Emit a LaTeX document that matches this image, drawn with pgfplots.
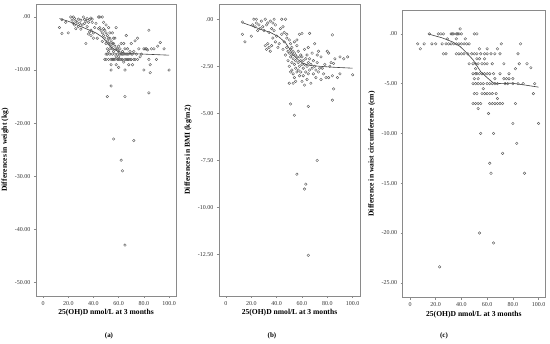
\documentclass[border=0pt]{standalone}
\usepackage{fontspec}
\setmainfont{Liberation Serif}
\usepackage{pgfplots}
\pgfplotsset{compat=1.18}
\definecolor{frame}{HTML}{8A8A8A}
\definecolor{pt}{HTML}{5A5A5A}
\definecolor{fit}{HTML}{404040}
\pgfplotsset{
  panel/.style={
    scale only axis, anchor=south west,
    axis line style={frame, line width=0.6pt},
    tick style={frame, line width=0.5pt},
    major tick length=2pt, tick align=outside, tick pos=left,
    ticklabel style={font=\fontsize{6}{6.5}\selectfont, text=black!80},
    xtick={0,20,40,60,80,100},
    xticklabels={0,20.0,40.0,60.0,80.0,100.0},
    xlabel={25(OH)D nmol/L at 3 months},
    label style={font=\bfseries\fontsize{7.6}{9}\selectfont},
    xlabel style={at={(axis description cs:0.5,0)}, anchor=center, yshift=-17pt},
    ylabel style={at={(axis description cs:0,0.5)}, anchor=center, rotate=0, yshift=31pt},
    x tick label style={yshift=0.5pt},
  },
  pts/.style={only marks, mark=o, mark size=1.3pt, mark options={draw=pt, line width=0.4pt}},
  loess/.style={no marks, draw=fit, line width=0.6pt},
}
\begin{document}
\begin{tikzpicture}[x=1pt,y=1pt]
\fill[white] (0,0) rectangle (550,344);
\path[use as bounding box] (0,0) rectangle (550,344);
% ---------------- (a) ----------------
\begin{axis}[panel, at={(36pt,48pt)}, width=140pt, height=292pt,
  xmin=-5.6, xmax=105.5, ymin=-52.6, ymax=2.45,
  ytick={-50,-40,-30,-20,-10,0},
  yticklabels={-50.00,-40.00,-30.00,-20.00,-10.00,.00},
  ylabel={Differences in weight (kg)}]
\addplot[pts] table {
13 -2
15 -0.5
15 -3.1
18 -1
20 -3
22 0
23 -0.6
24 0
24 -1.2
25 -0.3
25 -1.5
26 -2.2
26 -0.8
27 -1
28 -0.4
28 -1.8
29 -1.2
30 -0.6
30 -2.3
31 -1.5
32 0
33 -0.5
33 -1.2
34 -5
34 -0.8
35 -1.8
35 -0.3
36 -1
36 -3.2
37 -2.8
37 -0.5
38 -0.2
38 -2.5
38 -3.5
39 -1
39 -0.4
40 -3
40 -4
41 -2
42 -1.2
43 -4
44 0
44 -2.2
45 0
45 -2
46 -2.5
47 0
47 -4.6
47 -3
48 -3.5
48 -1
48 -2.2
49 -4
49 -2.5
49 -8
50 -3
50 -5
50 -1.5
50 -7
50 -8
51 -3.5
51 -6
51 -7
51 -4.5
52 -4
52 -5
52 -8
52 -2
52 -6.5
53 -4
53 -6
53 -5
53 -7
53 -3
54 -4.5
54 -8
54 -9
54 -10
54 -5.5
55 -5
55 -6
55 -7
55 -3
55 -8
56 -5
56 -8
56 -6.5
56 -4
57 -4
57 -7
57 -8
57 -5.5
58 -6
58 -9
58 -2
58 -7.5
59 -6
59 -7
59 -8
60 -6.5
60 -5.5
60 -7.5
60 -9.5
60 -8
61 -6
61 -8
61 -7
62 -7
62 -5
62 -8
63 -8
63 -6.5
63 -7
64 -7
64 -8.5
64 -5
65 -8
65 -10
65 -6
65 -7
66 -3.5
66 -7
66 -8
67 -8
67 -6
67 -7
68 -7
68 -9
68 -8
69 -8
69 -6.5
70 -7
70 -5
70 -8
71 -9
71 -7
72 -8
72 -6.5
73 -4.5
73 -8
74 -7
75 -8
75 -4
76 -6
77 -7.5
78 -7
80 -6
80 -10
81 -6
82 -6
83 -6.2
84 -2.5
84 -8
85 -10.5
85 -9
86 -6
88 -6
90 -8
91 -5.5
93 -4.8
96 -6
100 -10
51 -15
54 -13
56 -23
62 -27
63 -29
65 -15
65 -43
72 -23.3
84 -14.3
};
\addplot[loess] coordinates {(13,-0.3) (20,-0.8) (29,-1.7) (36,-2.4) (42,-3.0) (47,-3.8) (50,-4.6) (53,-5.5) (57,-6.2) (61,-6.6) (65,-6.8) (70,-6.9) (80,-7.0) (90,-7.1) (100,-7.2)};
\end{axis}
% ---------------- (b) ----------------
\begin{axis}[panel, at={(219pt,48pt)}, width=141pt, height=292pt,
  xmin=-5.5, xmax=105.8, ymin=-14.7, ymax=0.81,
  ytick={-12.5,-10,-7.5,-5,-2.5,0},
  yticklabels={-12.50,-10.00,-7.50,-5.00,-2.50,.00},
  ylabel={Differences in BMI (kg/m2)}]
\addplot[pts] table {
13 -0.15
13 -0.8
15 -1.2
20 -0.9
21 -0.3
22 0
23 -0.4
24 0
24 -0.2
25 -0.6
26 -0.3
27 -0.5
28 -0.1
29 -0.4
30 -0.6
31 0
31 -1.4
32 -0.3
32 -1.6
33 -1.3
33 -0.2
34 -1.5
34 -0.7
35 -0.1
35 -1.7
36 -1.4
36 -0.5
37 -0.2
37 -1.0
38 0
38 -0.6
39 -0.3
39 -1.2
40 -0.9
41 -1.5
42 -1.3
43 -0.5
44 0
44 -0.8
45 -0.4
45 -1.6
46 -0.7
46 -1.2
47 0
47 -1.9
48 -1.0
48 -1.5
48 -0.8
49 -1.7
49 -2.2
50 -1.1
50 -1.8
50 -2.5
50 -3.4
51 -1.6
51 -2.0
51 -2.8
51 -1.3
52 -1.9
52 -2.3
52 -2.7
52 -1.5
53 -1.7
53 -2.1
53 -2.9
53 -3.4
54 -1.8
54 -2.4
54 -3.1
54 -1.2
55 -1.9
55 -2.6
55 -2.2
55 -3.3
56 -1.4
56 -2.0
56 -2.8
56 -1.1
57 -2.3
57 -2.7
57 -1.7
58 -2.0
58 -2.5
58 -3.0
58 -0.8
59 -2.2
59 -2.8
59 -1.9
60 -2.4
60 -3.3
60 -0.75
60 -2.0
61 -2.6
61 -2.2
61 -3.0
62 -2.4
62 -1.6
62 -3.5
63 -2.1
63 -2.8
64 -2.5
64 -3.2
64 -1.9
65 -2.3
65 -2.9
65 -1.5
66 -2.7
66 -0.75
66 -2.1
67 -2.4
67 -3.4
68 -2.6
68 -1.8
69 -2.2
69 -2.9
70 -2.5
70 -1.3
71 -2.7
71 -3.1
72 -2.3
72 -1.9
73 -2.8
73 -1.7
74 -2.6
75 -3.2
75 -2.0
76 -2.6
77 -2.9
78 -2.4
79 -3.1
80 -1.7
81 -1.8
81 -3.1
82 -2.5
83 -2.3
84 -0.83
84 -3.0
85 -3.7
84 -4.3
85 -2.35
86 -2.1
88 -3.1
90 -2.0
90 -2.9
93 -2.1
96 -2.0
100 -2.95
51 -4.5
54 -5.1
65 -4.63
72 -7.5
56 -8.23
63 -8.76
62 -9.02
65 -12.54
};
\addplot[loess] coordinates {(13,-0.18) (20,-0.35) (28,-0.55) (35,-0.7) (42,-0.95) (47,-1.25) (50,-1.55) (53,-1.9) (57,-2.15) (61,-2.35) (66,-2.45) (74,-2.5) (85,-2.55) (100,-2.6)};
\end{axis}
% ---------------- (c) ----------------
\begin{axis}[panel, at={(402.7pt,46.3pt)}, width=142.3pt, height=287.7pt,
  xmin=-5.7, xmax=105, ymin=-26.5, ymax=2.4,
  ytick={-25,-20,-15,-10,-5,0},
  yticklabels={-25.00,-20.00,-15.00,-10.00,-5.00,.00},
  ylabel={Difference in waist circumference (cm)}]
\addplot[pts] table {
15 0
22 0
24 0
26 0
32 0
33 0
34 0
36 0
37 0
38 0
40 0
50 0
52 0
39 0.5
29 -0.5
36 -0.5
43 -0.5
6 -1
11 -1
17 -1
20 -1
25 -1
28 -1
30 -1
32 -1
34 -1
36 -1
38 -1
40 -1
42 -1
44 -1
46 -1
71 -1
86 -1
8 -1.5
54 -1.5
60 -1.5
68 -1.5
26 -2
28 -2
36 -2
38 -2
40 -2
42 -2
45 -2
48 -2
50 -2
52 -2
55 -2
58 -2
60 -2
63 -2
66 -2
70 -2
84 -2
52 -2.5
54 -2.5
58 -2.5
46 -3
49 -3
51 -3
53 -3
56 -3
58 -3
60 -3
64 -3
73 -3
85 -3
91 -3
51 -3.5
82 -3.5
94 -3.4
49 -4
51 -4
52 -4
54 -4
56 -4
58 -4
60 -4
62 -4
65 -4
70 -4
77 -4
50 -4.5
53 -4.5
66 -4.5
73 -4.5
75 -4.5
77 -4.5
80 -4.5
49 -5
51 -5
53 -5
55 -5
57 -5
60 -5
62 -5
64 -5
66 -5
68 -5
74 -5
76 -5
80 -5
84 -5
88 -5
97 -5
57 -5.5
50 -6
52 -6
56 -6
58 -6
60 -6
62 -6
64 -6
67 -6
96 -6
68 -6.5
49 -7
51 -7
53 -7
55 -7
62 -7
64 -7
66 -7
68 -7
70 -7
72 -7
82 -7
53 -7.5
61 -8
55 -10
65 -10
62 -13
63 -14
72 -12
83 -11
89 -14
80 -9
100 -9
54 -20
65 -21
23 -23.4
};
\addplot[loess] coordinates {(14,0) (25,-0.4) (33,-0.8) (39,-1.27) (44,-1.9) (49,-2.6) (52,-3.2) (55,-3.8) (60,-4.4) (65,-4.95) (72,-5.0) (79,-4.95) (90,-5.15) (100,-5.35)};
\end{axis}
\node[font=\bfseries\fontsize{7}{8}\selectfont] at (109,8) {(a)};
\node[font=\bfseries\fontsize{7}{8}\selectfont] at (272,8) {(b)};
\node[font=\bfseries\fontsize{7}{8}\selectfont] at (444,8) {(c)};
\end{tikzpicture}
\end{document}
